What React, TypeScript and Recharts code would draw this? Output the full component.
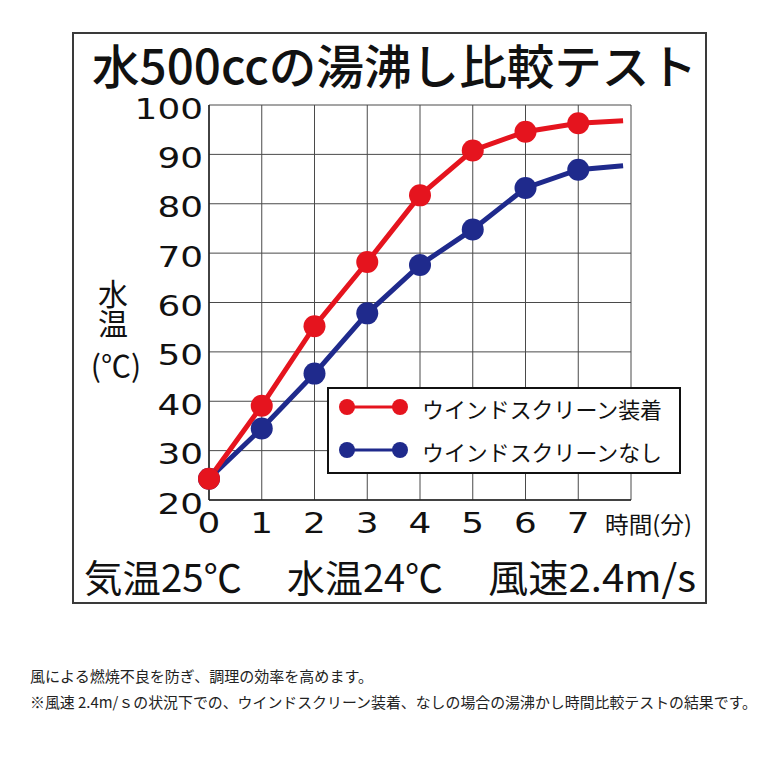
import { LineChart, Line, XAxis, YAxis, CartesianGrid, Legend } from 'recharts'

// 経過時間(分)。最後の点は線の延長のみ（マーカーなし）
const minutes = [0, 1, 2, 3, 4, 5, 6, 7, 7.85]
const withScreen = [24.3, 39.1, 55.2, 68.2, 81.7, 90.8, 94.6, 96.3, 96.8]
const withoutScreen = [24.3, 34.5, 45.6, 57.8, 67.6, 74.8, 83.2, 86.9, 87.7]
const xTicks = [0, 1, 2, 3, 4, 5, 6, 7, 8]
const yTicks = [20, 30, 40, 50, 60, 70, 80, 90, 100]
const seriesNames = ['ウインドスクリーン装着', 'ウインドスクリーンなし']

const RED = '#e5141e'
const BLUE = '#1f2a8c'
const JP = '"Noto Sans CJK JP", "Noto Sans", sans-serif'
const NUM = '"DejaVu Sans", sans-serif'

const data = minutes.map((t, i) => ({ t, on: withScreen[i], off: withoutScreen[i] }))

const YTick = ({ x, y, payload }: any) => (
  <g transform={`translate(${x},${y + 4})`}>
    <text textAnchor="end" dominantBaseline="central" transform="scale(1.28,1)"
      fontSize={28} fontFamily={NUM} fill="#111">{payload.value}</text>
  </g>
)

const XTick = ({ x, y, payload }: any) => {
  if (payload.value > 7) return <g />
  return (
    <g transform={`translate(${x},${y})`}>
      <text textAnchor="middle" dominantBaseline="central" transform="scale(1.28,1)"
        fontSize={28} fontFamily={NUM} fill="#111">{payload.value}</text>
    </g>
  )
}

const dot = (color: string) => (props: any) => {
  const { cx, cy, payload, index } = props
  if (!Number.isInteger(payload.t)) return <g key={`e-${index}`} />
  return <circle key={`d-${index}`} cx={cx} cy={cy} r={11} fill={color} />
}

const LegendBox = () => (
  <div style={{ width: 354, height: 87, boxSizing: 'border-box', border: '2px solid #111', background: '#fff' }}>
    <svg width={350} height={83}>
      {[RED, BLUE].map((c, i) => {
        const cy = 18 + i * 43
        return (
          <g key={c}>
            <line x1={18} x2={71} y1={cy} y2={cy} stroke={c} strokeWidth={3} />
            <circle cx={18} cy={cy} r={8} fill={c} />
            <circle cx={71} cy={cy} r={8} fill={c} />
            <text x={93} y={cy + 1} dominantBaseline="central" fontSize={22} fontFamily={JP}
              fill="#111" textLength={240} lengthAdjust="spacingAndGlyphs">{seriesNames[i]}</text>
          </g>
        )
      })}
    </svg>
  </div>
)

export default function App() {
  return (
    <div style={{ position: 'absolute', left: 0, top: 0, width: 780, height: 780, background: '#fff' }}>
      <div style={{
        position: 'absolute', left: 72, top: 32, width: 635, height: 572,
        boxSizing: 'border-box', border: '2px solid #3a3a3a',
      }} />
      <div style={{ position: 'absolute', left: 0, top: 0 }}>
        <LineChart width={780} height={780} data={data}
          margin={{ top: 105, right: 149, left: 0, bottom: 240 }}>
          <CartesianGrid stroke="#4a4a4a" strokeWidth={1} />
          <XAxis dataKey="t" type="number" domain={[0, 8]} ticks={xTicks} height={40}
            tick={<XTick />} tickSize={0} tickMargin={23} interval={0}
            axisLine={{ stroke: '#222', strokeWidth: 1.5 }} />
          <YAxis type="number" domain={[20, 100]} ticks={yTicks} width={209}
            tick={<YTick />} tickSize={0} tickMargin={6} interval={0}
            axisLine={{ stroke: '#222', strokeWidth: 1.5 }} />
          <Legend layout="horizontal" verticalAlign="middle" align="center"
            wrapperStyle={{ left: 327, top: 387, width: 354, height: 87 }}
            content={() => <LegendBox />} />
          <Line dataKey="off" name={seriesNames[1]} stroke={BLUE} strokeWidth={5}
            dot={dot(BLUE)} activeDot={false} isAnimationActive={false} />
          <Line dataKey="on" name={seriesNames[0]} stroke={RED} strokeWidth={5}
            dot={dot(RED)} activeDot={false} isAnimationActive={false} />
        </LineChart>
      </div>
      <svg width={780} height={780} style={{ position: 'absolute', left: 0, top: 0, pointerEvents: 'none' }}>
        <text x={92} y={63} dominantBaseline="central" fontSize={47} fontWeight={500} fontFamily={JP}
          fill="#111" textLength={605} lengthAdjust="spacingAndGlyphs">水500ccの湯沸し比較テスト</text>
        <text x={113} y={309} textAnchor="middle" writingMode="vertical-rl" fontSize={30}
          fontFamily={JP} fill="#111">水温</text>
        <text x={116} y={364} textAnchor="middle" dominantBaseline="central" fontSize={30} fontFamily={JP} fill="#111">(℃)</text>
        <text x={605} y={523} dominantBaseline="central" fontSize={23} fontFamily={JP} fill="#111"
          textLength={87} lengthAdjust="spacingAndGlyphs">時間(分)</text>
        <text x={84} y={575} dominantBaseline="central" fontSize={38} fontFamily={JP} fill="#111"
          textLength={158} lengthAdjust="spacingAndGlyphs">気温25℃</text>
        <text x={287} y={575} dominantBaseline="central" fontSize={38} fontFamily={JP} fill="#111"
          textLength={156} lengthAdjust="spacingAndGlyphs">水温24℃</text>
        <text x={488} y={575} dominantBaseline="central" fontSize={38} fontFamily={JP} fill="#111"
          textLength={208} lengthAdjust="spacingAndGlyphs">風速2.4m/s</text>
        <text x={30} y={675} dominantBaseline="central" fontSize={15} fontFamily={JP} fill="#222"
          textLength={343} lengthAdjust="spacingAndGlyphs">風による燃焼不良を防ぎ、調理の効率を高めます。</text>
        <text x={30} y={701} dominantBaseline="central" fontSize={15} fontFamily={JP} fill="#222"
          textLength={727} lengthAdjust="spacingAndGlyphs">※風速 2.4m/ｓの状況下での、ウインドスクリーン装着、なしの場合の湯沸かし時間比較テストの結果です。</text>
      </svg>
    </div>
  )
}
